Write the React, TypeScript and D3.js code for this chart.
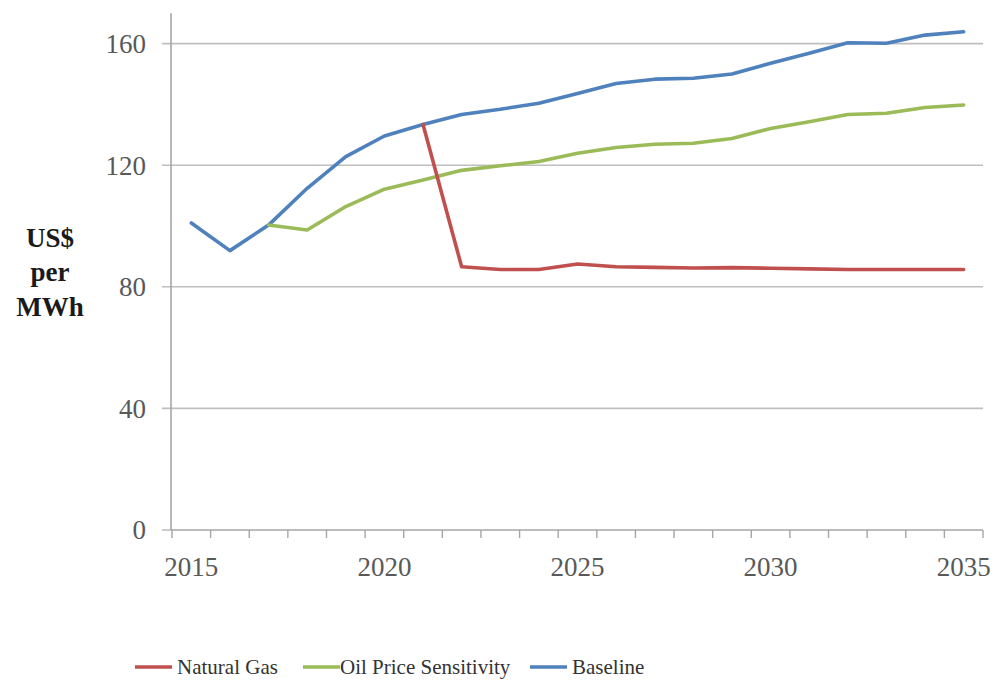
import React from "react";
import * as d3 from "d3";

const years = d3.range(2015, 2036).map(String);
const labeledYears = ["2015", "2020", "2025", "2030", "2035"];
const yTicks = [0, 40, 80, 120, 160];

const baseline = [
  101, 91.9, 100.3, 112.4, 122.8, 129.6, 133.4, 136.7, 138.4, 140.4, 143.6,
  146.9, 148.3, 148.6, 150.0, 153.5, 156.8, 160.3, 160.1, 162.8, 163.9,
];
// Oil price sensitivity starts in 2017
const oilPrice = [
  null, null, 100.3, 98.7, 106.4, 112.1, 115.1, 118.3, 119.8, 121.2, 123.9,
  125.8, 126.9, 127.2, 128.8, 132.1, 134.3, 136.7, 137.1, 139.0, 139.8,
];
// Natural gas branches off baseline in 2021
const naturalGas = [
  null, null, null, null, null, null, 133.4, 86.6, 85.7, 85.7, 87.5, 86.6,
  86.4, 86.2, 86.3, 86.1, 85.9, 85.7, 85.7, 85.7, 85.7,
];

const seriesNames = ["Natural Gas", "Oil Price Sensitivity", "Baseline"];
const seriesColors = ["#C0504D", "#9BBB59", "#4F81BD"];

const W = 995;
const H = 684;
const FONT = "'Liberation Serif', 'Times New Roman', serif";

export default function App() {
  const x = d3.scaleBand<string>().domain(years).range([172, 983]).paddingInner(0).paddingOuter(0);
  const y = d3.scaleLinear().domain([0, 170]).range([530, 13.2]);
  const cx = (i: number) => (x(years[i]) as number) + x.bandwidth() / 2;

  const line = d3
    .line<number | null>()
    .defined((d) => d != null)
    .x((_, i) => cx(i))
    .y((d) => y(d as number));

  const data = [naturalGas, oilPrice, baseline];
  // draw order: baseline under, then oil, then gas on top
  const drawOrder = [2, 1, 0];

  const boundaries = years.map((yr) => x(yr) as number).concat([x.range()[1]]);

  const legendItems = [
    { sx: 135, tx: 177 },
    { sx: 303, tx: 340 },
    { sx: 530, tx: 572 },
  ];

  return (
    <svg
      width={W}
      height={H}
      style={{ position: "absolute", left: 0, top: 0, background: "#fff" }}
      fontFamily={FONT}
    >
      {/* gridlines and y ticks */}
      {yTicks.map((t) => (
        <g key={t}>
          <line x1={162} x2={t === 0 ? 172 : 983} y1={y(t)} y2={y(t)} stroke="#BFBFBF" strokeWidth={1.6} />
          <text x={146} y={y(t)} dy="0.35em" textAnchor="end" fontSize={27} fill="#595959">
            {t}
          </text>
        </g>
      ))}

      {/* x axis */}
      <line x1={171} x2={983} y1={y(0)} y2={y(0)} stroke="#A6A6A6" strokeWidth={1.6} />
      {boundaries.map((b, i) => (
        <line key={i} x1={b} x2={b} y1={y(0)} y2={y(0) + 8} stroke="#A6A6A6" strokeWidth={1.4} />
      ))}
      {labeledYears.map((yr) => (
        <text
          key={yr}
          x={(x(yr) as number) + x.bandwidth() / 2}
          y={576}
          textAnchor="middle"
          fontSize={27}
          fill="#595959"
        >
          {yr}
        </text>
      ))}

      {/* y axis */}
      <line x1={171} x2={171} y1={y(170)} y2={y(0)} stroke="#A6A6A6" strokeWidth={1.6} />

      {/* y axis title */}
      <text textAnchor="middle" fontSize={27} fontWeight="bold" fill="#1a1a1a">
        <tspan x={50} y={247}>US$</tspan>
        <tspan x={50} y={281}>per</tspan>
        <tspan x={50} y={316}>MWh</tspan>
      </text>

      {/* series lines */}
      {drawOrder.map((k) => (
        <path
          key={k}
          d={line(data[k]) || ""}
          fill="none"
          stroke={seriesColors[k]}
          strokeWidth={3.6}
          strokeLinejoin="round"
          strokeLinecap="round"
        />
      ))}

      {/* legend */}
      {seriesNames.map((name, k) => (
        <g key={name}>
          <line
            x1={legendItems[k].sx}
            x2={legendItems[k].sx + 37}
            y1={667}
            y2={667}
            stroke={seriesColors[k]}
            strokeWidth={3.6}
          />
          <text x={legendItems[k].tx} y={674} fontSize={21} fill="#333">
            {name}
          </text>
        </g>
      ))}
    </svg>
  );
}
